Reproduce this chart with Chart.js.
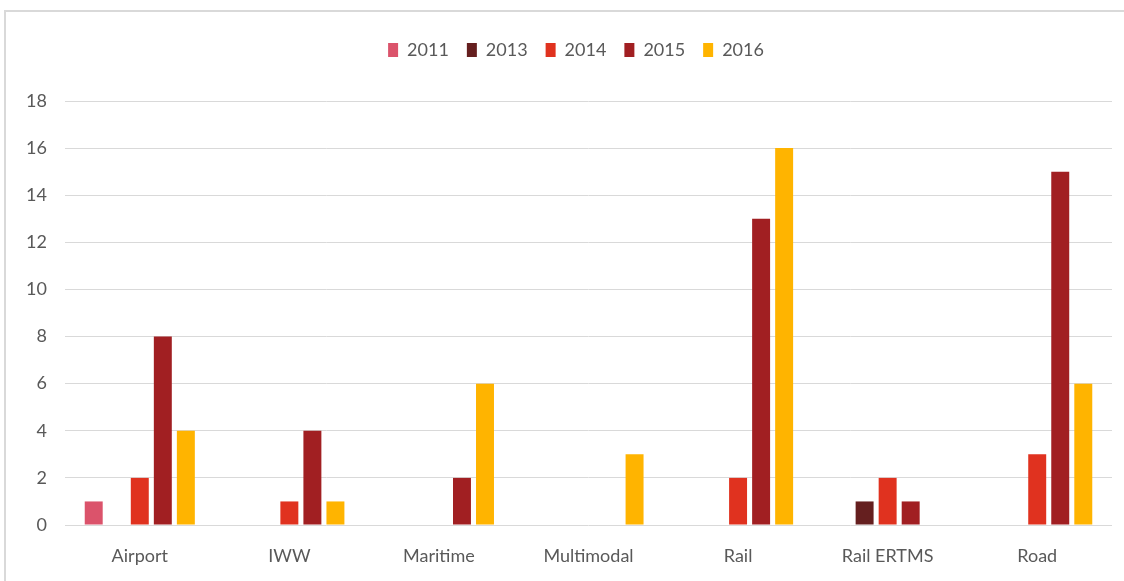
<!DOCTYPE html>
<html>
<head>
<meta charset="utf-8">
<script src="https://cdn.jsdelivr.net/npm/chart.js@4"></script>
<style>
    html, body { margin: 0; padding: 0; background: #fff; overflow: hidden; }
    .frame {
        position: absolute; left: 4px; top: 10px; width: 1130px; height: 580px;
        border-left: 2px solid #d9d9d9; border-top: 2px solid #d9d9d9;
    }
    #wrap { position: absolute; left: 0; top: 0; width: 1124px; height: 581px; }
</style>
</head>
<body>
<div class="frame"></div>
<div id="wrap"><canvas id="chart-modos"></canvas></div>
<script>
// Categorías y series por año
const categorias = ['Airport', 'IWW', 'Maritime', 'Multimodal', 'Rail', 'Rail ERTMS', 'Road'];
const anios = ['2011', '2013', '2014', '2015', '2016'];
const serie2011 = [1, null, null, null, null, null, null];
const serie2013 = [null, null, null, null, null, 1, null];
const serie2014 = [2, 1, null, null, 2, 2, 3];
const serie2015 = [8, 4, 2, null, 13, 1, 15];
const serie2016 = [4, 1, 6, 3, 16, null, 6];
const colores = ['#db536b', '#651f1f', '#e0321f', '#a11f22', '#ffb400'];

const series = [serie2011, serie2013, serie2014, serie2015, serie2016];
const gris = '#595959';
const fuente = 'Lato, "Open Sans", sans-serif';

// Separación extra bajo la leyenda y leve desplazamiento a la derecha
const ajusteLeyenda = {
    id: 'ajusteLeyenda',
    beforeInit(chart) {
        const fitOriginal = chart.legend.fit;
        chart.legend.fit = function() {
            fitOriginal.bind(chart.legend)();
            this.height += 32;
        };
    },
    afterLayout(chart) {
        chart.legend.left += 20;
        chart.legend.right += 20;
    }
};

const ctx = document.getElementById('chart-modos').getContext('2d');
new Chart(ctx, {
    type: 'bar',
    data: {
        labels: categorias,
        datasets: anios.map((anio, i) => ({
            label: anio,
            data: series[i],
            backgroundColor: colores[i],
            borderWidth: 0,
            categoryPercentage: 0.77,
            barPercentage: 0.78
        }))
    },
    options: {
        responsive: true,
        maintainAspectRatio: false,
        animation: false,
        layout: { padding: { top: 23, right: 12, bottom: -6, left: 0 } },
        plugins: {
            tooltip: { enabled: false },
            legend: {
                position: 'top',
                labels: {
                    boxWidth: 10,
                    boxHeight: 14,
                    padding: 18,
                    color: gris,
                    font: { family: fuente, size: 18 }
                }
            }
        },
        scales: {
            x: {
                grid: { display: false, drawTicks: false },
                border: { display: false },
                ticks: { color: gris, padding: 22, font: { family: fuente, size: 18, lineHeight: 1 } }
            },
            y: {
                min: 0,
                max: 18,
                afterFit: s => { s.width = 65; },
                grid: { color: '#d9d9d9', lineWidth: 1, drawTicks: false },
                border: { display: false },
                ticks: { stepSize: 2, color: gris, padding: 18, font: { family: fuente, size: 18 } }
            }
        }
    },
    plugins: [ajusteLeyenda]
});
</script>
</body>
</html>
